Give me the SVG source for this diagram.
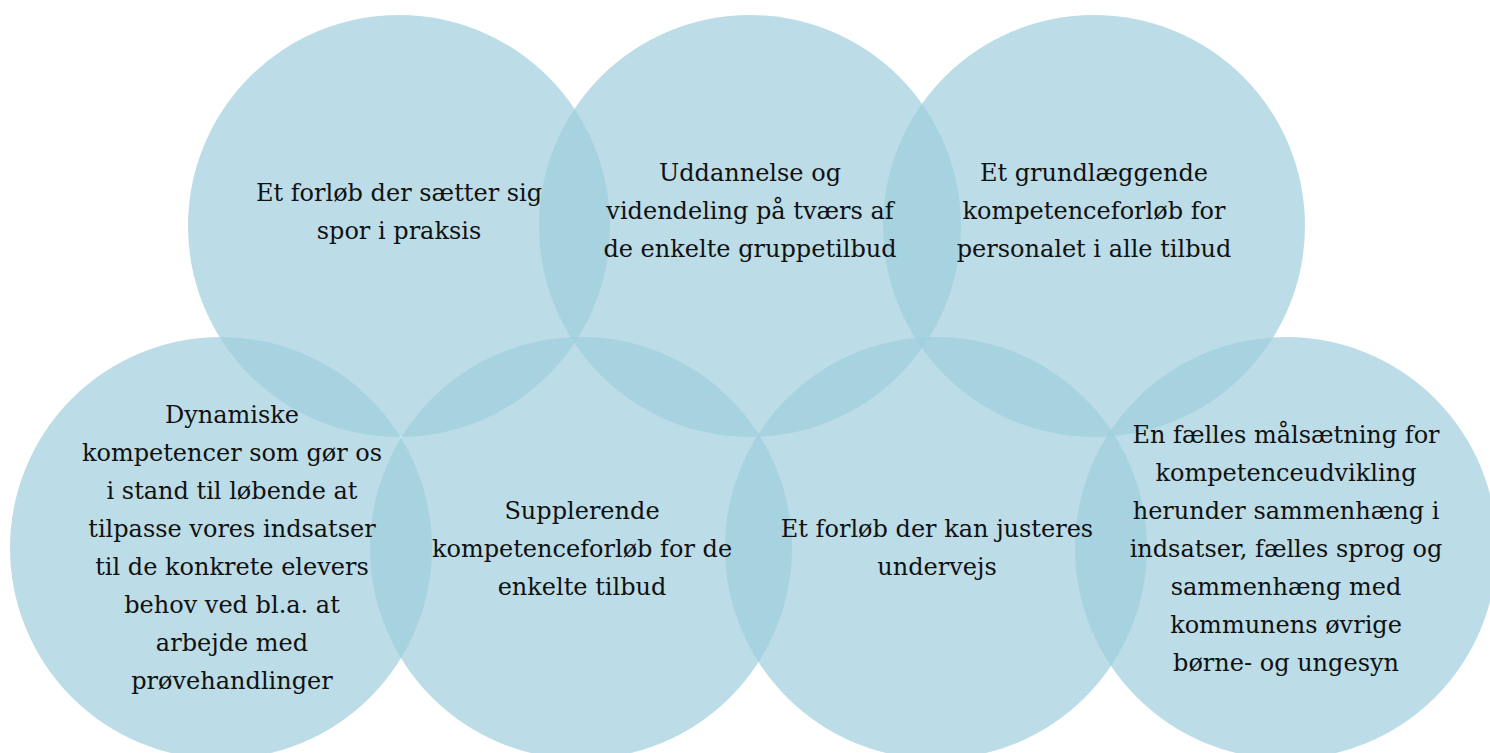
<svg xmlns="http://www.w3.org/2000/svg" width="1490" height="753" viewBox="0 0 1490 753">
<style>
.c{fill:rgb(158,206,220);fill-opacity:0.69}
.t{font-family:"DejaVu Serif","Liberation Serif",serif;font-size:24px;fill:#111;text-anchor:middle}
</style>
<rect width="1490" height="753" fill="#fff"/>
<g id="connectors"/>
<g id="n1"><circle class="c" cx="399" cy="226" r="211"/></g>
<g id="n2"><circle class="c" cx="750" cy="226" r="211"/></g>
<g id="n3"><circle class="c" cx="1094" cy="226" r="211"/></g>
<g id="n4"><circle class="c" cx="221" cy="548" r="211"/></g>
<g id="n5"><circle class="c" cx="581" cy="548" r="211"/></g>
<g id="n6"><circle class="c" cx="936" cy="548" r="211"/></g>
<g id="n7"><circle class="c" cx="1286" cy="548" r="211"/></g>
<g id="labels">
<text class="t" x="399" y="201"><tspan x="399">Et forløb der sætter sig</tspan><tspan x="399" dy="38">spor i praksis</tspan></text>
<text class="t" x="750" y="181"><tspan x="750">Uddannelse og</tspan><tspan x="750" dy="38">videndeling på tværs af</tspan><tspan x="750" dy="38">de enkelte gruppetilbud</tspan></text>
<text class="t" x="1094" y="181"><tspan x="1094">Et grundlæggende</tspan><tspan x="1094" dy="38">kompetenceforløb for</tspan><tspan x="1094" dy="38">personalet i alle tilbud</tspan></text>
<text class="t" x="232" y="423"><tspan x="232">Dynamiske</tspan><tspan x="232" dy="38">kompetencer som gør os</tspan><tspan x="232" dy="38">i stand til løbende at</tspan><tspan x="232" dy="38">tilpasse vores indsatser</tspan><tspan x="232" dy="38">til de konkrete elevers</tspan><tspan x="232" dy="38">behov ved bl.a. at</tspan><tspan x="232" dy="38">arbejde med</tspan><tspan x="232" dy="38">prøvehandlinger</tspan></text>
<text class="t" x="582" y="519"><tspan x="582">Supplerende</tspan><tspan x="582" dy="38">kompetenceforløb for de</tspan><tspan x="582" dy="38">enkelte tilbud</tspan></text>
<text class="t" x="937" y="537"><tspan x="937">Et forløb der kan justeres</tspan><tspan x="937" dy="38">undervejs</tspan></text>
<text class="t" x="1286" y="443"><tspan x="1286">En fælles målsætning for</tspan><tspan x="1286" dy="38">kompetenceudvikling</tspan><tspan x="1286" dy="38">herunder sammenhæng i</tspan><tspan x="1286" dy="38">indsatser, fælles sprog og</tspan><tspan x="1286" dy="38">sammenhæng med</tspan><tspan x="1286" dy="38">kommunens øvrige</tspan><tspan x="1286" dy="38">børne- og ungesyn</tspan></text>
</g>
</svg>
